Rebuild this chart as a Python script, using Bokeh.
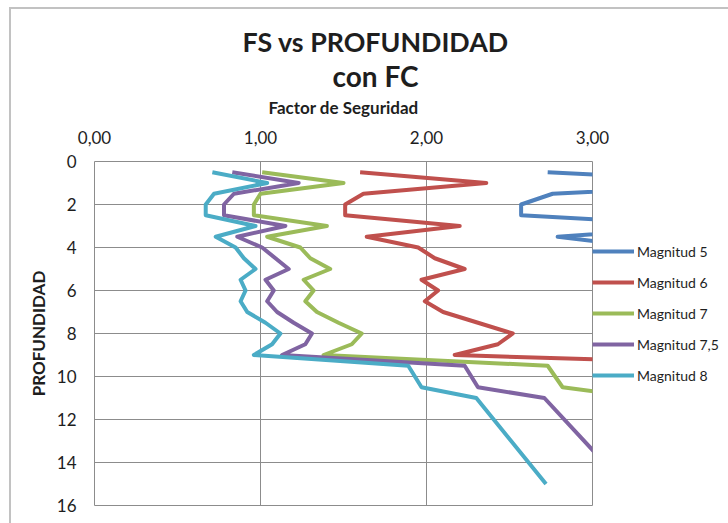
from bokeh.plotting import figure
from bokeh.models import Range1d, FixedTicker, Legend, LegendItem, Title
from bokeh.embed import file_html
from bokeh.resources import INLINE

# ---- data ----
profundidad = [0.5, 1.0, 1.5, 2.0, 2.5, 3.0, 3.5, 4.0, 4.5, 5.0, 5.5,
               6.0, 6.5, 7.0, 7.5, 8.0, 8.5, 9.0, 9.5, 10.5, 11.0, 15.0]

magnitud_5 = [2.73, 4.05, 2.76, 2.57, 2.57, 3.72, 2.79, 3.32, 3.50, 3.80, 3.36,
              3.53, 3.39, 3.58, 3.94, 4.30, 4.14, 3.70, 7.25, 7.59, 8.90, 10.50]
magnitud_6 = [1.60, 2.36, 1.62, 1.51, 1.51, 2.20, 1.64, 1.95, 2.05, 2.23, 1.97,
              2.07, 1.99, 2.10, 2.31, 2.52, 2.43, 2.17, 4.25, 4.45, 5.22, 6.16]
magnitud_7 = [1.01, 1.50, 1.00, 0.96, 0.96, 1.40, 1.04, 1.24, 1.30, 1.42, 1.26,
              1.32, 1.27, 1.34, 1.47, 1.61, 1.55, 1.38, 2.73, 2.82, 3.30, 3.90]
magnitud_75 = [0.83, 1.23, 0.84, 0.78, 0.78, 1.15, 0.86, 1.01, 1.09, 1.17, 1.03,
               1.08, 1.04, 1.10, 1.20, 1.31, 1.27, 1.13, 2.23, 2.31, 2.71, 3.19]
magnitud_8 = [0.71, 1.04, 0.72, 0.67, 0.67, 0.97, 0.73, 0.85, 0.90, 0.97, 0.88,
              0.91, 0.88, 0.92, 1.03, 1.12, 1.07, 0.96, 1.89, 1.97, 2.30, 2.72]

series_names = ["Magnitud 5", "Magnitud 6", "Magnitud 7", "Magnitud 7,5", "Magnitud 8"]
series_values = [magnitud_5, magnitud_6, magnitud_7, magnitud_75, magnitud_8]
series_colors = ["#4F81BD", "#C0504D", "#9BBB59", "#8064A2", "#4BACC6"]

x_ticks = [0, 1, 2, 3]
x_tick_labels = ["0,00", "1,00", "2,00", "3,00"]
y_ticks = [0, 2, 4, 6, 8, 10, 12, 14, 16]

title_line1 = "FS vs PROFUNDIDAD"
title_line2 = "con FC"
x_title = "Factor de Seguridad"
y_title = "PROFUNDIDAD"

FONT = "Lato"
TXT = "#1e1e1e"
GRID = "#8c8c8c"

p = figure(frame_width=498, frame_height=344,
           x_range=Range1d(0, 3), y_range=Range1d(16, 0),
           x_axis_location="above",
           output_backend="svg", toolbar_location=None,
           min_border_left=94, min_border_right=136,
           min_border_top=161, min_border_bottom=18)
p.title.visible = False
p.outline_line_color = GRID
p.outline_line_width = 1
p.background_fill_color = "white"
p.border_fill_alpha = 0

xa = p.xaxis[0]
xa.ticker = FixedTicker(ticks=x_ticks)
xa.major_label_overrides = {t: l for t, l in zip(x_ticks, x_tick_labels)}
xa.axis_label = x_title
ya = p.yaxis[0]
ya.ticker = FixedTicker(ticks=y_ticks)
ya.axis_label = y_title
for ax in (xa, ya):
    ax.axis_line_color = None
    ax.major_tick_line_color = None
    ax.minor_tick_line_color = None
    ax.major_tick_out = 0
    ax.major_tick_in = 0
    ax.major_label_text_font = FONT
    ax.major_label_text_font_size = "17px"
    ax.major_label_text_color = TXT
    ax.axis_label_text_font = FONT
    ax.axis_label_text_font_size = "17px"
    ax.axis_label_text_font_style = "bold"
    ax.axis_label_text_color = TXT
xa.major_label_standoff = 18
xa.axis_label_standoff = 10
ya.major_label_standoff = 18
ya.axis_label_standoff = 5

p.xgrid.ticker = FixedTicker(ticks=x_ticks)
p.ygrid.ticker = FixedTicker(ticks=y_ticks)
for g in (p.xgrid[0], p.ygrid[0]):
    g.grid_line_color = GRID
    g.grid_line_width = 1

items = []
for name, vals, col in zip(series_names, series_values, series_colors):
    r = p.line(vals, profundidad, line_color=col, line_width=4, line_join="round")
    items.append(LegendItem(label=name, renderers=[r]))

# legend in the right-hand panel; a blank title pushes the entries down
legend = Legend(items=items, location="top_left",
                title=" ", title_text_font_size="10px", title_standoff=69,
                glyph_width=42, glyph_height=20, label_height=20, spacing=11,
                label_standoff=3, padding=0, margin=0,
                border_line_color=None, background_fill_alpha=0,
                label_text_font=FONT, label_text_font_size="14px",
                label_text_color=TXT)
p.add_layout(legend, "right")

# two-line chart title (inner line added first so it sits closer to the plot)
p.add_layout(Title(text=title_line2, align="left", offset=238, standoff=2,
                   text_font=FONT, text_font_size="28px", text_font_style="bold",
                   text_color=TXT), "above")
p.add_layout(Title(text=title_line1, align="left", offset=148, standoff=-4,
                   text_font=FONT, text_font_size="26.8px", text_font_style="bold",
                   text_color=TXT), "above")

p.styles = {
    "background-image": "linear-gradient(#c2c2c2, #c2c2c2), linear-gradient(#c2c2c2, #c2c2c2)",
    "background-size": "720px 2px, 2px 520px",
    "background-position": "9px 7px, 9px 7px",
    "background-repeat": "no-repeat",
}

open("out.html", "w").write(file_html(p, INLINE))
